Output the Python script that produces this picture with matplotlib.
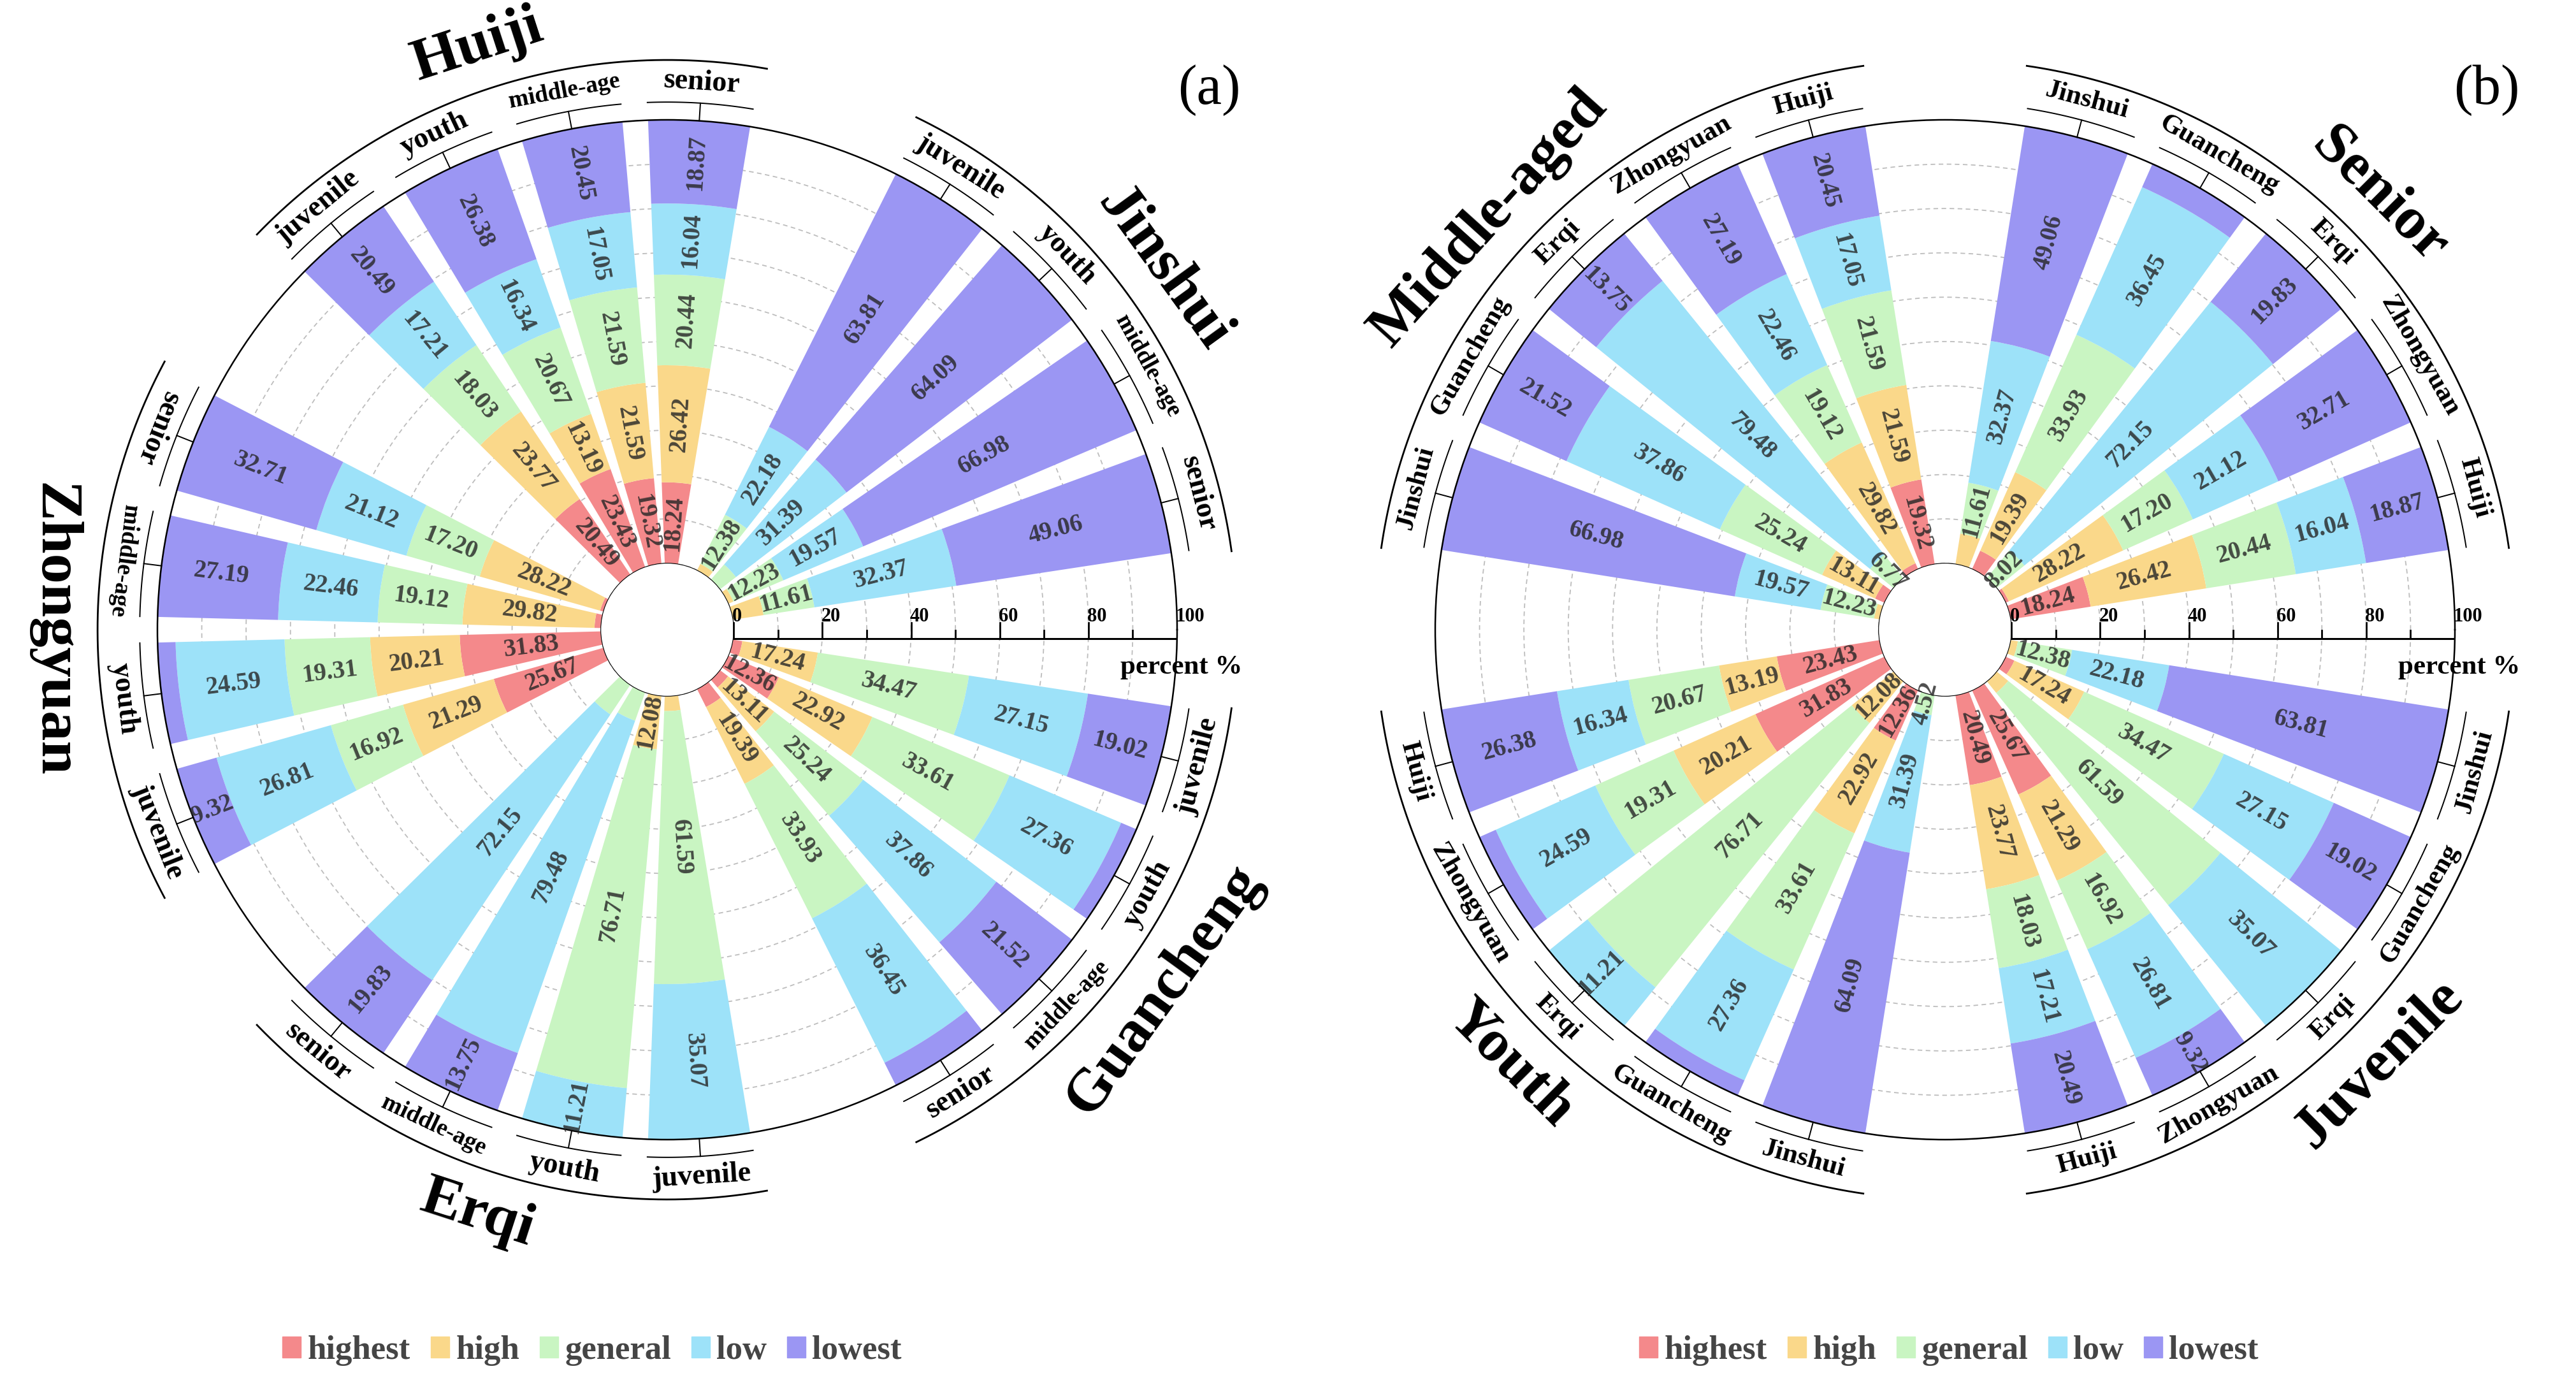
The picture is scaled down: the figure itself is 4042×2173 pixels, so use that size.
import numpy as np
import matplotlib
matplotlib.use("Agg")
import matplotlib.pyplot as plt
from matplotlib.patches import Patch

plt.rcParams['font.family'] = ['Liberation Serif', 'DejaVu Serif']

levels = ["highest", "high", "general", "low", "lowest"]
colors = ["#F4898B", "#FAD88A", "#C9F5C2", "#9DE2F9", "#9B96F3"]
ages = ["juvenile", "youth", "middle-age", "senior"]
age_titles = ["Juvenile", "Youth", "Middle-aged", "Senior"]
districts = ["Guancheng", "Erqi", "Zhongyuan", "Huiji", "Jinshui"]   # clockwise order in (a)
districts_b = ["Jinshui", "Guancheng", "Erqi", "Zhongyuan", "Huiji"]  # order inside each age group in (b)

# percent per level (highest, high, general, low, lowest); rows: juvenile, youth, middle-age, senior
guancheng = [[2.12, 17.24, 34.47, 27.15, 19.02],
             [12.36, 22.92, 33.61, 27.36, 3.75],
             [2.27, 13.11, 25.24, 37.86, 21.52],
             [4.50, 19.39, 33.93, 36.45, 5.73]]
erqi = [[0.00, 3.34, 61.59, 35.07, 0.00],
        [0.00, 12.08, 76.71, 11.21, 0.00],
        [0.00, 0.00, 6.77, 79.48, 13.75],
        [0.00, 0.00, 8.02, 72.15, 19.83]]
zhongyuan = [[25.67, 21.29, 16.92, 26.81, 9.32],
             [31.83, 20.21, 19.31, 24.59, 4.06],
             [1.41, 29.82, 19.12, 22.46, 27.19],
             [0.75, 28.22, 17.20, 21.12, 32.71]]
huiji = [[20.49, 23.77, 18.03, 17.21, 20.49],
         [23.43, 13.19, 20.67, 16.34, 26.38],
         [19.32, 21.59, 21.59, 17.05, 20.45],
         [18.24, 26.42, 20.44, 16.04, 18.87]]
jinshui = [[0.00, 1.63, 12.38, 22.18, 63.81],
           [0.00, 0.00, 4.52, 31.39, 64.09],
           [0.00, 1.22, 12.23, 19.57, 66.98],
           [0.00, 6.96, 11.61, 32.37, 49.06]]
table = {"Guancheng": guancheng, "Erqi": erqi, "Zhongyuan": zhongyuan,
         "Huiji": huiji, "Jinshui": jinshui}

axis_ticks = list(range(0, 101, 10))

W, H, RAD = 4042, 2173, 800
R0 = 15.0  # inner hole, in percent units
TXT = dict(fontweight="bold", rotation_mode="anchor", ha="center", va="center")

fig = plt.figure(figsize=(W / 100, H / 100), dpi=100)


def box(cx, cy):
    return [(cx - RAD) / W, (H - cy - RAD) / H, 2 * RAD / W, 2 * RAD / H]


def radial_rot(a):
    an = (a + 180) % 360 - 180
    if an > 90:
        return an - 180
    if an <= -90:
        return an + 180
    return an


def panel(cx, cy, groups, sub_size, label_general, tag, name_shift, legend_x):
    ax = fig.add_axes(box(cx, cy), projection="polar")
    ax.set_axisbelow(True)
    n = len(groups[0][1])
    step = 360 / (len(groups) * (n + 1))
    width = np.deg2rad(step * 0.8)
    for gi, (gname, members) in enumerate(groups):
        angs = []
        for j, (sub, vals) in enumerate(members):
            a = -step * (1 + gi * (n + 1) + j)
            angs.append(a)
            t = np.deg2rad(a)
            bottom = 0.0
            for lvl, v in enumerate(vals):
                if v > 0:
                    ax.bar(t, v, width=width, bottom=bottom, color=colors[lvl], lw=0, zorder=2)
                if v >= 9 or (label_general and lvl == 2 and v > 0):
                    ax.text(t, bottom + v / 2, f"{v:.2f}", rotation=radial_rot(a), fontsize=28,
                            color="#262626", alpha=0.82, zorder=5, **TXT)
                bottom += v
        top = 0 < ((angs[0] + angs[-1]) / 2) % 360 < 180
        for a, (sub, _) in zip(angs, members):
            t = np.deg2rad(a)
            rot = a - 90 if top else a + 90
            ax.plot([t, t], [100, 104], color="k", lw=1.4, clip_on=False)
            tt = np.deg2rad(np.linspace(a - step * 0.4, a + step * 0.4, 40))
            ax.plot(tt, np.full_like(tt, 104), color="k", lw=1.4, clip_on=False)
            ax.text(t, 108.6, sub, rotation=rot, fontsize=sub_size(sub), color="k", **TXT)
        gc = (angs[0] + angs[-1]) / 2
        tt = np.deg2rad(np.linspace(angs[0] + step * 0.45, angs[-1] - step * 0.45, 200))
        ax.plot(tt, np.full_like(tt, 113.5), color="k", lw=2.0, clip_on=False)
        gn = gc + name_shift.get(gname, 0)
        ax.text(np.deg2rad(gn), 123.5, gname, rotation=gn - 90 if top else gn + 90,
                fontsize=68, color="k", **TXT)

    ax.set_xticks([])
    ax.set_yticks(axis_ticks[:-1])
    ax.set_yticklabels([])
    ax.yaxis.grid(True, ls=(0, (4, 3)), color="#bdbdbd", lw=1.3)
    ax.spines["polar"].set_linewidth(1.8)
    ax.spines["inner"].set_visible(False)
    ax.set_ylim(0, 100)
    ax.set_rorigin(-R0)

    # straight percent axis, drawn just below the centre line
    ov = fig.add_axes(box(cx, cy))
    ov.set_xlim(-100 - R0, 100 + R0)
    ov.set_ylim(-100 - R0, 100 + R0)
    ov.axis("off")
    y0 = -2.0
    ov.plot([R0, R0 + 100], [y0, y0], color="k", lw=2.2, solid_capstyle="butt")
    for v in axis_ticks:
        major = v % 20 == 0
        ov.plot([R0 + v, R0 + v], [y0, y0 + (3.6 if major else 1.9)], color="k", lw=2.0)
        if major:
            ov.text(R0 + v - 0.3, y0 + 5.0, str(v), fontsize=22, fontweight="bold",
                    ha="left", va="center")
    ov.text(116, y0 - 6.5, "percent %", fontsize=31, fontweight="bold", ha="center", va="center")
    fig.text((cx + 850) / W, 1 - 142 / H, tag, fontsize=64, ha="center", va="center")

    handles = [Patch(color=c, label=l) for c, l in zip(colors, levels)]
    fig.legend(handles=handles, loc="center", bbox_to_anchor=(legend_x / W, 1 - 2119 / H),
               ncol=5, frameon=False, handlelength=0.55, handleheight=0.6,
               handletextpad=0.2, columnspacing=0.6, labelcolor="#454545",
               prop={"weight": "bold", "size": 38})


groups_a = [(d, [(age, table[d][k]) for k, age in enumerate(ages)]) for d in districts]
groups_b = [(age_titles[k], [(d, table[d][k]) for d in districts_b]) for k in range(len(ages))]

panel(1047, 988, groups_a, lambda s: 27 if s == "middle-age" else 33, False, "(a)", {}, 929)
panel(3052, 988, groups_b, lambda s: 31, True, "(b)", {"Middle-aged": 3}, 3058)

fig.savefig("out.png", dpi=100, facecolor="white")
